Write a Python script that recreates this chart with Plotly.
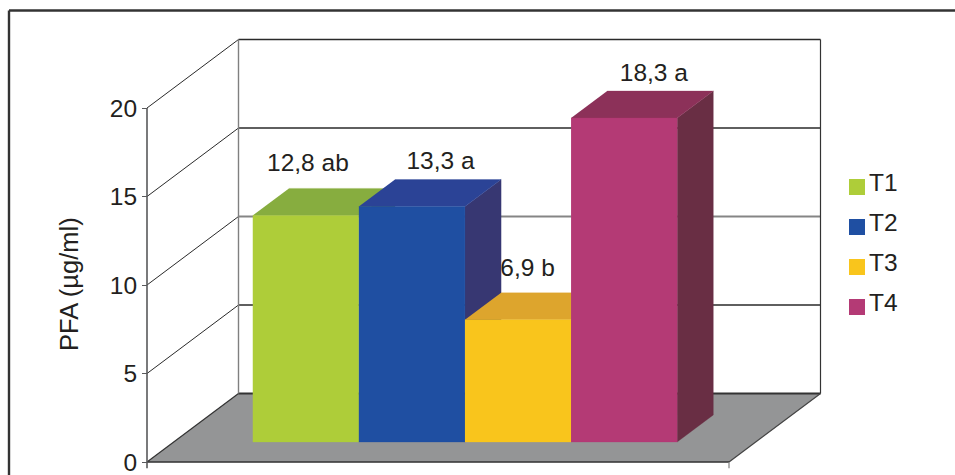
import plotly.graph_objects as go

# Chart data
TREATMENTS = ["T1", "T2", "T3", "T4"]
PFA_VALUES = [12.8, 13.3, 6.9, 18.3]
SIGNIFICANCE = ["ab", "a", "b", "a"]
Y_TICKS = [0, 5, 10, 15, 20]
AXIS_TITLE = "PFA (µg/ml)"

# Styling per treatment: front, top and side faces
FRONT = ["#AECD39", "#1F4FA2", "#F9C51C", "#B43A75"]
TOP = ["#87AD3F", "#2B4396", "#DDA52D", "#8C3159"]
SIDE = ["#6F8F35", "#373772", "#B8892A", "#692E44"]
GRID_COLORS = ["#333333", "#2A2A2A", "#858585", "#2A2A2A", "#2A2A2A"]
INK = "#231F20"
FONT = "Liberation Sans"
FS = 24.5

# Oblique projection of the box: one x unit is one bar width, y is in µg/ml
W, H = 955, 475
PX_X, PX_Y = 106.1, 17.7
ORIGIN_X, ORIGIN_Y = 147, 462
FLOOR_W = 582 / PX_X
DEPTH_X, DEPTH_Y = 91.5 / PX_X, 68.5 / PX_Y
BAR_D0, BAR_D1 = 0.292, 0.687
GAP = 0.745
# Data label nudges in bar widths and µg/ml relative to the bar top
LABEL_DX = [0.02, 0.27, 0.09, 0.28]
LABEL_DY = [1.33, 0.93, 1.28, 0.93]


def px(x):
    return (x - ORIGIN_X) / PX_X


def py(y):
    return (ORIGIN_Y - y) / PX_Y


def proj(x, v, d):
    return x + d * DEPTH_X, v + d * DEPTH_Y


def poly(points, color, name, line=None):
    xs, ys = zip(*points)
    return go.Scatter(
        x=list(xs), y=list(ys), mode="lines", fill="toself", fillcolor=color,
        line=dict(color=line or color, width=0.3), hoverinfo="skip",
        showlegend=False, name=name,
    )


def seg(a, b, color, width):
    return go.Scatter(
        x=[a[0], b[0]], y=[a[1], b[1]], mode="lines",
        line=dict(color=color, width=width), hoverinfo="skip", showlegend=False,
    )


fig = go.Figure()

# Floor of the box
fig.add_trace(poly(
    [proj(0, 0, 0), proj(FLOOR_W, 0, 0), proj(FLOOR_W, 0, 1), proj(0, 0, 1)],
    "#949596", "floor",
))

# Gridlines on the side wall and the back wall
for t, c in zip(Y_TICKS, GRID_COLORS):
    if t > 0:
        fig.add_trace(seg(proj(0, t, 0), proj(0, t, 1), "#2A2A2A", 1))
    fig.add_trace(seg(proj(0, t, 1), proj(FLOOR_W, t, 1), c, 2 if c == "#858585" or t == 0 else 1.5))

# Wall edges, floor edges and the stubs below the floor
fig.add_trace(seg(proj(0, 0, 1), proj(0, 20, 1), "#808080", 1.4))
fig.add_trace(seg(proj(FLOOR_W, 0, 1), proj(FLOOR_W, 20, 1), "#333333", 1.2))
fig.add_trace(seg(proj(0, 0, 0), proj(0, 0, 1), "#333333", 1.2))
fig.add_trace(seg(proj(FLOOR_W, 0, 0), proj(FLOOR_W, 0, 1), "#444444", 1.2))
fig.add_trace(seg(proj(0, 0, 0), proj(FLOOR_W, 0, 0), "#333333", 1.4))
fig.add_trace(seg((0, -0.35), (0, 20), "#58595B", 1.6))
fig.add_trace(seg((FLOOR_W, -0.35), (FLOOR_W, 0), "#808080", 1.2))

# Bars, painted left to right so each one overlaps its neighbour
for i, name in enumerate(TREATMENTS):
    v = PFA_VALUES[i]
    x0, x1 = GAP + i, GAP + i + 1
    fig.add_trace(poly(
        [proj(x1, 0, BAR_D0), proj(x1, 0, BAR_D1), proj(x1, v, BAR_D1), proj(x1, v, BAR_D0)],
        SIDE[i], name + " side",
    ))
    fig.add_trace(poly(
        [proj(x0, v, BAR_D0), proj(x1, v, BAR_D0), proj(x1, v, BAR_D1), proj(x0, v, BAR_D1)],
        TOP[i], name + " top",
    ))
    fig.add_trace(poly(
        [proj(x0, 0, BAR_D0), proj(x1, 0, BAR_D0), proj(x1, v, BAR_D0), proj(x0, v, BAR_D0)],
        FRONT[i], name,
    ))

# Value labels above the bars
for i, v in enumerate(PFA_VALUES):
    cx, cy = proj(GAP + i + 0.5, v, BAR_D0)
    label = f"{v:.1f}".replace(".", ",") + " " + SIGNIFICANCE[i]
    fig.add_trace(go.Scatter(
        x=[cx + LABEL_DX[i]], y=[v + BAR_D1 * DEPTH_Y + LABEL_DY[i]], mode="text", text=[label],
        textposition="middle center", textfont=dict(family=FONT, size=FS, color=INK),
        hoverinfo="skip", showlegend=False,
    ))

# Key on the right
for i, name in enumerate(TREATMENTS):
    row = 187 + 40 * i
    fig.add_trace(go.Scatter(
        x=[px(857)], y=[py(row)], mode="markers",
        marker=dict(symbol="square", size=16, color=FRONT[i], line=dict(width=0)),
        hoverinfo="skip", showlegend=False, name=name,
    ))
    fig.add_trace(go.Scatter(
        x=[px(869)], y=[py(row - 2)], mode="text", text=[name], textposition="middle right",
        textfont=dict(family=FONT, size=FS, color=INK), hoverinfo="skip", showlegend=False,
    ))

fig.update_layout(
    width=W, height=H, margin=dict(l=0, r=0, t=0, b=0),
    paper_bgcolor="white", plot_bgcolor="white", showlegend=False,
    font=dict(family=FONT, size=FS, color=INK),
    xaxis=dict(range=[px(0), px(W)], visible=False, fixedrange=True),
    yaxis=dict(
        range=[py(H), py(0)], anchor="free", position=ORIGIN_X / W,
        tickmode="array", tickvals=Y_TICKS, ticktext=[str(t) for t in Y_TICKS],
        ticks="outside", ticklen=5, tickwidth=1.2, tickcolor="#58595B",
        tickfont=dict(family=FONT, size=FS, color=INK), ticklabeloverflow="allow",
        showgrid=False, zeroline=False, showline=False, fixedrange=True,
    ),
    annotations=[dict(
        x=px(69), y=py(284), xref="x", yref="y", text=AXIS_TITLE, textangle=-90,
        showarrow=False, font=dict(family=FONT, size=25.5, color=INK),
    )],
    shapes=[
        dict(type="line", xref="paper", yref="paper", x0=9 / W, x1=1, y0=1 - 10.5 / H, y1=1 - 10.5 / H,
             line=dict(color="#333333", width=2.4)),
        dict(type="line", xref="paper", yref="paper", x0=9 / W, x1=9 / W, y0=0, y1=1 - 10.5 / H,
             line=dict(color="#333333", width=2.4)),
    ],
)

fig.write_html("out.html", config={"displayModeBar": False})
